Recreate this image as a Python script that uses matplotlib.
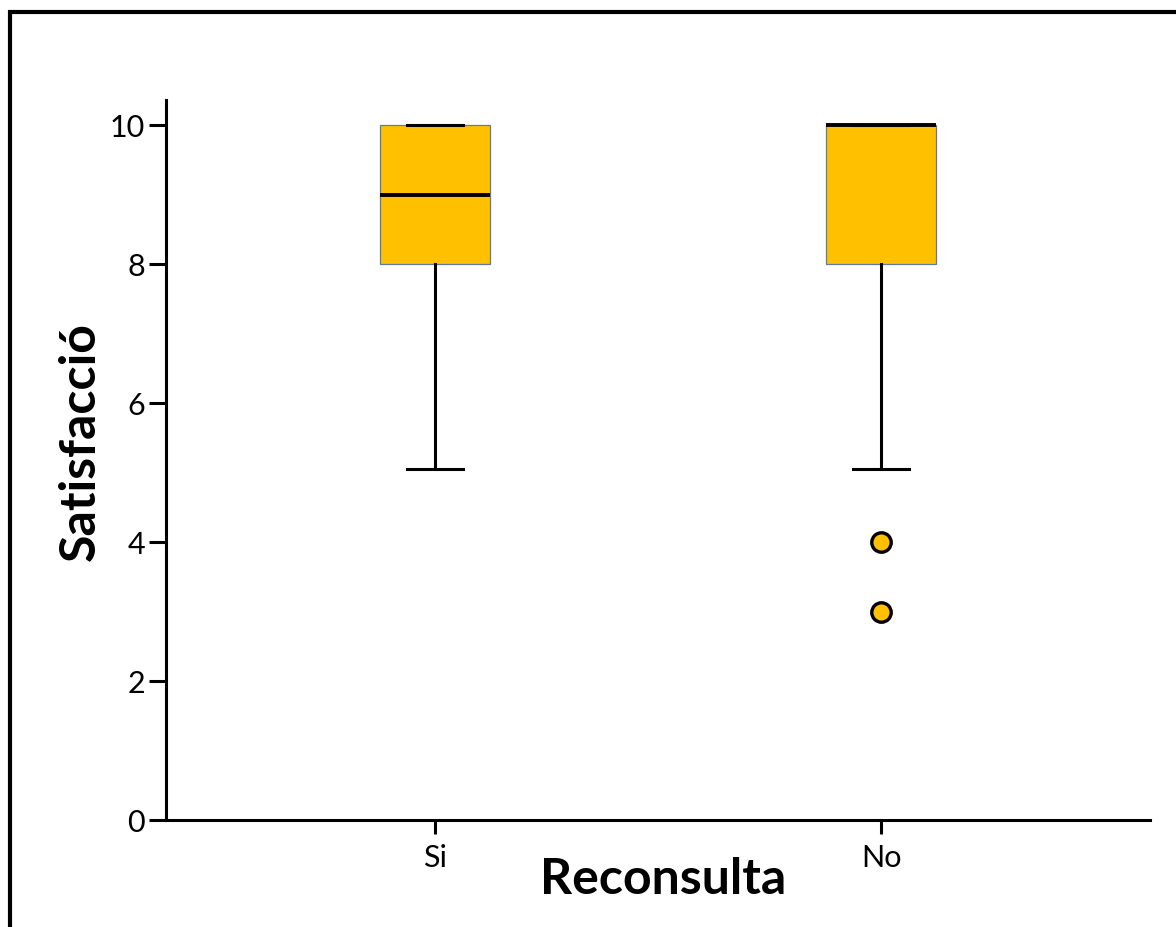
import matplotlib
matplotlib.use("Agg")
import matplotlib.pyplot as plt
from matplotlib.patches import Rectangle

plt.rcParams['font.family'] = ['Lato', 'DejaVu Sans']

# data
groups = ['Si', 'No']
q1 = [8, 8]
medians = [9, 10]
q3 = [10, 10]
whisker_low = [5.05, 5.05]
whisker_high = [10, 10]
outliers = [[], [4, 3]]

orange = '#FFC000'

fig = plt.figure(figsize=(11.76, 9.27), dpi=100)
ax = fig.add_axes([0.1412, 0.1154, 0.8367, 0.7767])

stats = []
for i, g in enumerate(groups):
    stats.append(dict(label=g, q1=q1[i], med=medians[i], q3=q3[i],
                      whislo=whisker_low[i], whishi=whisker_high[i],
                      fliers=outliers[i]))

ax.bxp(stats, positions=[1, 2], widths=0.247, patch_artist=True,
       boxprops=dict(facecolor=orange, edgecolor='#5B7BA6', linewidth=0.9),
       medianprops=dict(color='black', linewidth=2.8, solid_capstyle='butt', zorder=5),
       whiskerprops=dict(color='black', linewidth=2.2),
       capprops=dict(color='black', linewidth=2.2),
       capwidths=0.124,
       flierprops=dict(marker='o', markerfacecolor=orange, markeredgecolor='black',
                       markersize=14, markeredgewidth=2.4))

ax.set_xlim(0.397, 2.603)
ax.set_ylim(0, 10.36)
ax.set_yticks([0, 2, 4, 6, 8, 10])

for s in ['top', 'right']:
    ax.spines[s].set_visible(False)
for s in ['left', 'bottom']:
    ax.spines[s].set_linewidth(2.2)

ax.tick_params(axis='both', width=2.2, length=12, labelsize=22, pad=3)
ax.tick_params(axis='x', length=10, pad=7)

ax.set_xlabel('Reconsulta', fontsize=36, fontweight='bold')
ax.set_ylabel('Satisfacció', fontsize=36, fontweight='bold')
ax.xaxis.set_label_coords(0.505, -0.052)
ax.yaxis.set_label_coords(-0.064, 0.526)

# outer frame
frame = Rectangle((0.0085, -0.5), 1.5, 0.987 + 0.5, transform=fig.transFigure,
                  fill=False, edgecolor='black', linewidth=3, clip_on=False)
fig.patches.append(frame)

fig.savefig('out.png', dpi=100)
